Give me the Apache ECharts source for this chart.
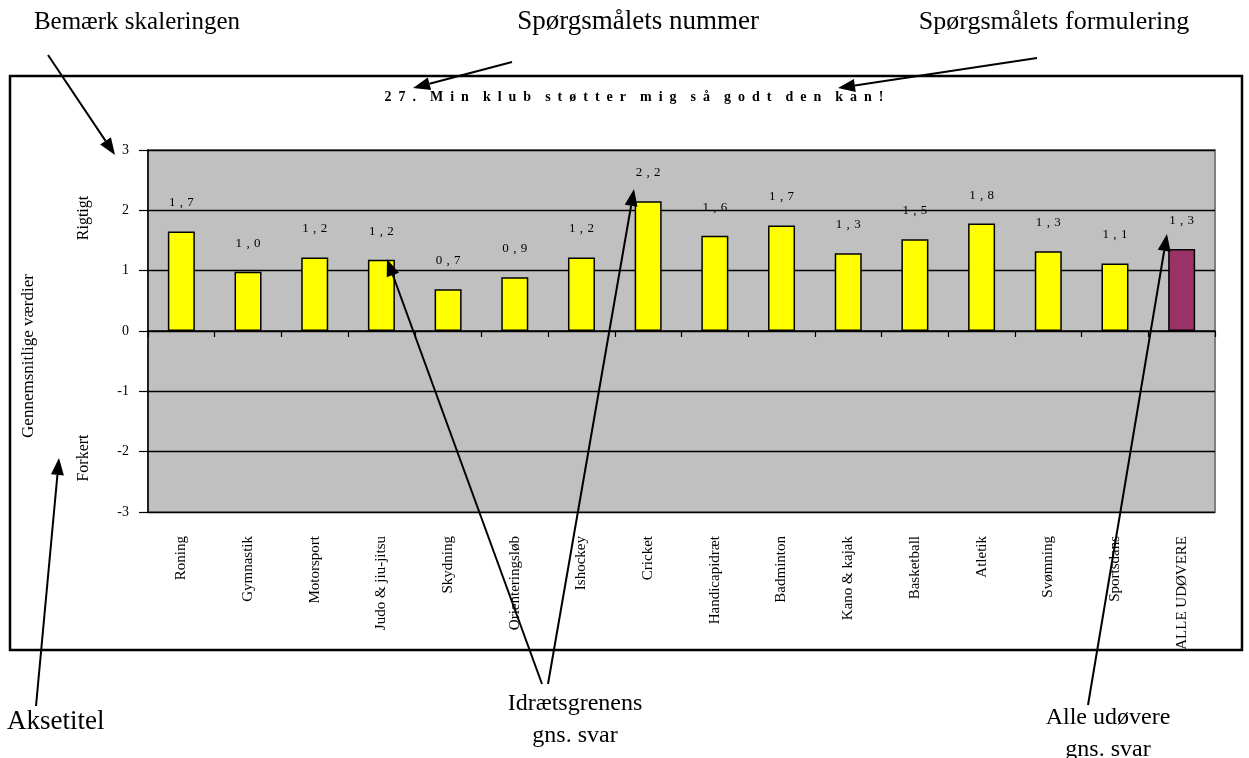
<!DOCTYPE html>
<html>
<head>
<meta charset="utf-8">
<script src="https://cdn.jsdelivr.net/npm/echarts@6/dist/echarts.min.js"></script>
<style>
  html, body { margin: 0; padding: 0; background: #fff; }
  #chart { width: 1249px; height: 758px; }
</style>
</head>
<body>
<div id="chart"></div>
<script>
  // idrætsgrene + alle udøvere
  const categories = ['Roning', 'Gymnastik', 'Motorsport', 'Judo & jiu-jitsu', 'Skydning', 'Orienteringsløb',
    'Ishockey', 'Cricket', 'Handicapidræt', 'Badminton', 'Kano & kajak', 'Basketball', 'Atletik',
    'Svømning', 'Sportsdans', 'ALLE UDØVERE']
  // søjlehøjder
  const values = [1.65, 0.98, 1.22, 1.18, 0.69, 0.89, 1.22, 2.15, 1.58, 1.75, 1.29, 1.52, 1.78, 1.32, 1.12, 1.36]
  // de viste dataetiketter
  const labels = ['1,7', '1,0', '1,2', '1,2', '0,7', '0,9', '1,2', '2,2', '1,6', '1,7', '1,3', '1,5', '1,8', '1,3', '1,1', '1,3']
  const yTicks = [-3, -2, -1, 0, 1, 2, 3]
  const title = '27. Min klub støtter mig så godt den kan!'

  const serif = '"Liberation Serif", "DejaVu Serif", serif'

  function spread(s, gap) {
    return s.split(' ').map(w => w.split('').join(gap)).join('\u2003')
  }

  // linje med pilespids i (x2, y2)
  function arrow(x1, y1, x2, y2) {
    let a = Math.atan2(y2 - y1, x2 - x1)
    let L = 17, W = 6.5
    let bx = x2 - L * Math.cos(a), by = y2 - L * Math.sin(a)
    let px = -Math.sin(a) * W, py = Math.cos(a) * W
    return [{
      type: 'line', z: 100,
      shape: { x1: x1, y1: y1, x2: bx, y2: by },
      style: { stroke: '#000', lineWidth: 2 }
    }, {
      type: 'polygon', z: 100,
      shape: { points: [[x2, y2], [bx + px, by + py], [bx - px, by - py]] },
      style: { fill: '#000' }
    }]
  }

  function note(text, x, y, size, align) {
    return {
      type: 'text', z: 100, x: x, y: y,
      style: { text: text, font: size + 'px ' + serif, fill: '#000', align: align || 'center', verticalAlign: 'middle', lineHeight: 32 }
    }
  }

  function vtext(text, x, y, size) {
    return {
      type: 'text', z: 100, x: x, y: y, rotation: Math.PI / 2,
      style: { text: text, font: size + 'px ' + serif, fill: '#000', align: 'center', verticalAlign: 'middle' }
    }
  }

  let myChart = echarts.init(document.getElementById('chart'))

  let graphics = [
    { type: 'rect', z: 90, shape: { x: 10, y: 76, width: 1232, height: 574 },
      style: { fill: 'transparent', stroke: '#000', lineWidth: 2.5 } },
    { type: 'text', z: 100, x: 634, y: 97,
      style: { text: spread(title, '\u2002'), font: 'bold 14px ' + serif, fill: '#000', align: 'center', verticalAlign: 'middle' } },
    vtext('Rigtigt', 84, 218, 16),
    vtext('Forkert', 84, 458, 16),
    vtext('Gennemsnitlige værdier', 29, 356, 17),
    note('Bemærk skaleringen', 137, 22, 25),
    note('Spørgsmålets nummer', 638, 22, 27),
    note('Spørgsmålets formulering', 1054, 22, 26),
    note('Aksetitel', 7, 722, 27, 'left'),
    note('Idrætsgrenens\ngns. svar', 575, 720, 24),
    note('Alle udøvere\ngns. svar', 1108, 734, 24)
  ]
  graphics = graphics
    .concat(arrow(48, 55, 115, 155))
    .concat(arrow(512, 62, 413, 88))
    .concat(arrow(1037, 58, 838, 88))
    .concat(arrow(36, 706, 59, 458))
    .concat(arrow(542, 684, 387, 259))
    .concat(arrow(548, 684, 634, 189))
    .concat(arrow(1088, 705, 1167, 234))

  let option = {
    animation: false,
    backgroundColor: '#fff',
    textStyle: { fontFamily: serif },
    grid: {
      left: 148, right: 34, top: 150, bottom: 246,
      show: true,
      backgroundColor: '#c0c0c0',
      borderColor: '#808080',
      borderWidth: 2
    },
    xAxis: [{
      type: 'category',
      data: categories,
      position: 'bottom',
      axisLine: { onZero: true, lineStyle: { color: '#000', width: 1.5 } },
      axisTick: { show: true, interval: 0, length: 6, lineStyle: { color: '#000', width: 1.2 } },
      axisLabel: { show: false }
    }, {
      type: 'category',
      data: categories,
      position: 'bottom',
      axisLine: { show: false, onZero: false },
      axisTick: { show: false },
      axisLabel: {
        rotate: 90, margin: 24, interval: 0,
        fontFamily: serif, fontSize: 15, color: '#000'
      }
    }],
    yAxis: {
      type: 'value',
      min: yTicks[0],
      max: yTicks[yTicks.length - 1],
      interval: 1,
      axisLine: { show: true, lineStyle: { color: '#000', width: 1.5 } },
      axisTick: { show: true, length: 9, lineStyle: { color: '#000', width: 1.2 } },
      axisLabel: { margin: 19, fontFamily: serif, fontSize: 14, color: '#000' },
      splitLine: { show: true, lineStyle: { color: '#000', width: 1.3 } }
    },
    series: [{
      type: 'bar',
      xAxisIndex: 0,
      data: values,
      barWidth: 27,
      itemStyle: {
        color: function (p) {
          return p.dataIndex === categories.length - 1 ? '#993366' : '#ffff00'
        },
        borderColor: '#000',
        borderWidth: 1.5
      },
      label: {
        show: true,
        position: 'top',
        distance: 22,
        fontFamily: serif,
        fontSize: 13,
        color: '#000',
        formatter: function (p) {
          return labels[p.dataIndex].split('').join('\u2004')
        }
      }
    }],
    graphic: graphics
  }
  myChart.setOption(option)
</script>
</body>
</html>
